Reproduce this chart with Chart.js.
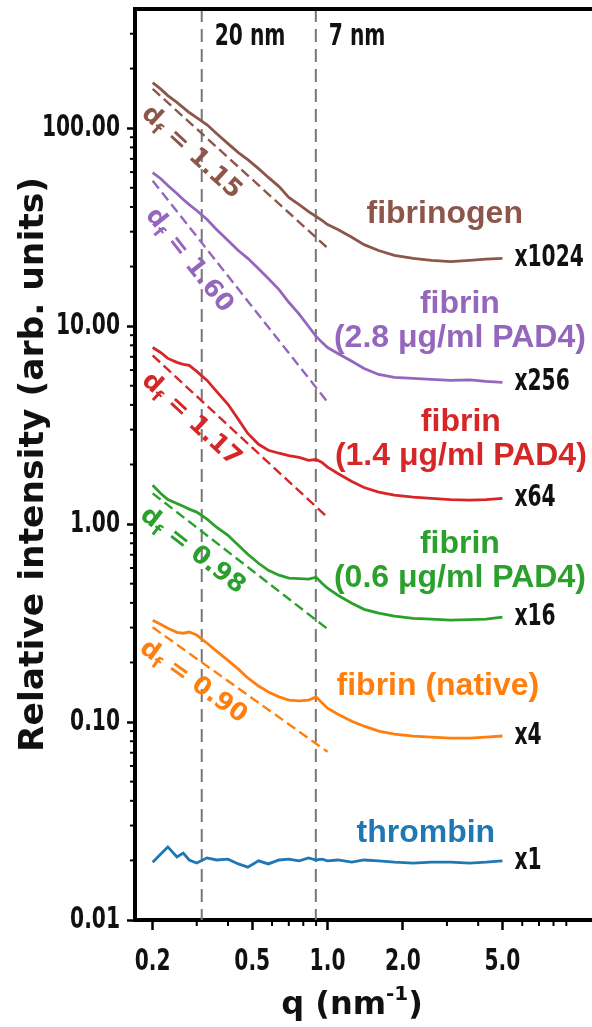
<!DOCTYPE html>
<html>
<head>
<meta charset="utf-8">
<script src="https://cdn.jsdelivr.net/npm/chart.js@4.4.1/dist/chart.umd.min.js"></script>
<style>
  html, body { margin: 0; padding: 0; background: #fff; overflow: hidden; }
</style>
</head>
<body>
<canvas id="saxs" width="592" height="1027"></canvas>
<script>
// scattering vector q (nm^-1), shared by every trace
const qValues = [0.2, 0.215, 0.23, 0.25, 0.265, 0.28, 0.3, 0.33, 0.36, 0.4, 0.44, 0.48, 0.53, 0.58, 0.64, 0.7,
  0.77, 0.84, 0.9, 0.95, 1.0, 1.1, 1.25, 1.4, 1.6, 1.85, 2.2, 2.6, 3.1, 3.7, 4.3, 5.0];

// intensities, already multiplied by the factor shown next to each trace
const fibrinogen = [170, 158, 146, 135, 127, 120, 113, 104, 94, 83.6, 75.3, 69.4, 62.5, 56.4, 50.7, 44.7,
  41.1, 37.9, 35.8, 34.2, 32.6, 30.8, 28.1, 25.8, 24.1, 22.8, 22.0, 21.5, 21.2, 21.5, 21.8, 22.0];
const fibrinPad28 = [59.7, 55.7, 51.3, 46.8, 43.6, 41.1, 38.4, 34.6, 30.8, 27.1, 24.1, 22.0, 19.5, 17.4, 15.3, 13.2,
  11.5, 9.96, 8.87, 8.28, 7.80, 7.28, 6.64, 6.11, 5.70, 5.51, 5.45, 5.38, 5.32, 5.35, 5.26, 5.20];
const fibrinPad14 = [7.80, 7.36, 6.87, 6.56, 6.41, 6.34, 5.91, 5.32, 4.68, 4.03, 3.38, 2.87, 2.53, 2.36, 2.28, 2.22,
  2.17, 2.10, 2.12, 2.05, 1.94, 1.80, 1.64, 1.53, 1.45, 1.40, 1.37, 1.35, 1.33, 1.32, 1.33, 1.35];
const fibrinPad06 = [1.57, 1.43, 1.33, 1.27, 1.23, 1.19, 1.15, 1.06, 0.964, 0.878, 0.782, 0.704, 0.634, 0.584, 0.552, 0.533,
  0.53, 0.527, 0.539, 0.503, 0.474, 0.437, 0.398, 0.371, 0.355, 0.343, 0.334, 0.331, 0.327, 0.329, 0.331, 0.339];
const fibrinNative = [0.327, 0.312, 0.298, 0.284, 0.281, 0.285, 0.275, 0.250, 0.228, 0.205, 0.185, 0.167, 0.152, 0.142, 0.134, 0.129,
  0.128, 0.129, 0.134, 0.125, 0.1175, 0.1096, 0.101, 0.0953, 0.0900, 0.0869, 0.0849, 0.0839, 0.0829, 0.083, 0.0839, 0.085];
const thrombin = [0.0196, 0.0215, 0.0234, 0.0208, 0.0218, 0.0201, 0.0194, 0.0206, 0.0201, 0.0203, 0.0192, 0.0185, 0.0199, 0.0192, 0.0201, 0.0203,
  0.0199, 0.0206, 0.0201, 0.0203, 0.0199, 0.0201, 0.0196, 0.0201, 0.0199, 0.0196, 0.0194, 0.0196, 0.0196, 0.0194, 0.0196, 0.0199];

// power-law fits: fractal dimension and intensity at the low-q end
const fractalDims = [1.15, 1.60, 1.17, 0.98, 0.90];
const fitStart = [158, 54.3, 7.11, 1.43, 0.301];
const fitQRange = [0.2, 1.0];

// characteristic sizes (nm), marked at q = 2*pi/d
const poreSizes = [20, 7];

const scaleFactors = ['x1024', 'x256', 'x64', 'x16', 'x4', 'x1'];
const seriesLabels = [
  ['fibrinogen'],
  ['fibrin', '(2.8 \u03bcg/ml PAD4)'],
  ['fibrin', '(1.4 \u03bcg/ml PAD4)'],
  ['fibrin', '(0.6 \u03bcg/ml PAD4)'],
  ['fibrin (native)'],
  ['thrombin']
];

const xTicks = [0.2, 0.5, 1, 2, 5];
const xMinorTicks = [0.3, 0.4, 0.6, 0.7, 0.8, 0.9, 3, 4, 6, 7, 8, 9];
const yTicks = [0.01, 0.1, 1, 10, 100];
const yMinorTicks = [0.02, 0.03, 0.04, 0.05, 0.06, 0.07, 0.08, 0.09, 0.2, 0.3, 0.4, 0.5, 0.6, 0.7, 0.8, 0.9,
  2, 3, 4, 5, 6, 7, 8, 9, 20, 30, 40, 50, 60, 70, 80, 90, 200, 300];

// where the trace names sit, in data coordinates (q, intensity)
const labelAnchors = [[2.94, 36.6], [3.38, 10.56], [3.41, 2.68], [3.38, 0.649], [2.76, 0.152], [2.47, 0.0275]];

const colors = ['#8c564b', '#9467bd', '#d62728', '#2ca02c', '#ff7f0e', '#1f77b4'];
const narrowFont = 'bold 30px "DejaVu Sans Condensed", "DejaVu Sans", sans-serif';

const traces = [fibrinogen, fibrinPad28, fibrinPad14, fibrinPad06, fibrinNative, thrombin];
const datasets = traces.map((vals, i) => ({
  data: qValues.map((q, k) => ({ x: q, y: vals[k] })),
  borderColor: colors[i],
  borderWidth: 2.8,
  pointRadius: 0,
  tension: 0
}));
fractalDims.forEach((df, i) => {
  const [q0, q1] = fitQRange;
  datasets.push({
    data: [{ x: q0, y: fitStart[i] }, { x: q1, y: fitStart[i] * Math.pow(q1 / q0, -df) }],
    borderColor: colors[i],
    borderWidth: 2.4,
    borderDash: [10, 5],
    pointRadius: 0
  });
});

// squeezed bold text for tick numbers and small labels
function narrowText(ctx, text, px, py, align) {
  ctx.save();
  ctx.translate(px, py);
  ctx.scale(0.75, 1);
  ctx.font = narrowFont;
  ctx.textAlign = align;
  ctx.textBaseline = 'middle';
  ctx.fillText(text, 0, 0);
  ctx.restore();
}

const decor = {
  id: 'decor',
  beforeDatasetsDraw(chart) {
    const { ctx, chartArea: a, scales: { x } } = chart;
    ctx.save();
    ctx.strokeStyle = '#777';
    ctx.lineWidth = 2;
    ctx.setLineDash([13, 7]);
    poreSizes.forEach(d => {
      const px = x.getPixelForValue(2 * Math.PI / d);
      ctx.beginPath();
      ctx.moveTo(px, a.top);
      ctx.lineTo(px, a.bottom);
      ctx.stroke();
    });
    ctx.restore();
  },
  afterDraw(chart) {
    const { ctx, chartArea: a, scales: { x, y } } = chart;
    ctx.save();

    // top edge of the frame
    ctx.strokeStyle = '#000';
    ctx.lineWidth = 4;
    ctx.beginPath();
    ctx.moveTo(a.left - 2, a.top);
    ctx.lineTo(chart.width, a.top);
    ctx.stroke();

    // minor ticks
    ctx.lineWidth = 2;
    xMinorTicks.forEach(v => {
      const px = x.getPixelForValue(v);
      ctx.beginPath(); ctx.moveTo(px, a.bottom); ctx.lineTo(px, a.bottom + 6); ctx.stroke();
    });
    yMinorTicks.forEach(v => {
      const py = y.getPixelForValue(v);
      ctx.beginPath(); ctx.moveTo(a.left, py); ctx.lineTo(a.left - 5, py); ctx.stroke();
    });

    // tick numbers
    ctx.fillStyle = '#111';
    yTicks.forEach(v => narrowText(ctx, v.toFixed(2), a.left - 15, y.getPixelForValue(v), 'right'));
    xTicks.forEach(v => narrowText(ctx, v.toFixed(1), x.getPixelForValue(v), a.bottom + 42, 'center'));

    // size markers
    poreSizes.forEach(d => {
      narrowText(ctx, d + ' nm', x.getPixelForValue(2 * Math.PI / d) + 13, a.top + 28, 'left');
    });

    // multiplication factors at the end of each trace
    traces.forEach((vals, i) => {
      const n = vals.length - 1;
      narrowText(ctx, scaleFactors[i], x.getPixelForValue(qValues[n]) + 12, y.getPixelForValue(vals[n]), 'left');
    });

    // trace names
    ctx.textAlign = 'center';
    ctx.textBaseline = 'middle';
    ctx.font = 'bold 32px "Liberation Sans", Arial, sans-serif';
    seriesLabels.forEach((lines, i) => {
      const cx = x.getPixelForValue(labelAnchors[i][0]);
      const cy = y.getPixelForValue(labelAnchors[i][1]);
      ctx.fillStyle = colors[i];
      lines.forEach((t, k) => ctx.fillText(t, cx, cy + (k - (lines.length - 1) / 2) * 34));
    });

    // d_f annotations along the fits
    const [q0, q1] = fitQRange;
    fractalDims.forEach((df, i) => {
      const x0 = x.getPixelForValue(q0), y0 = y.getPixelForValue(fitStart[i]);
      const x1 = x.getPixelForValue(q1), y1 = y.getPixelForValue(fitStart[i] * Math.pow(q1 / q0, -df));
      const qa = 0.325;
      const px = x.getPixelForValue(qa), py = y.getPixelForValue(fitStart[i] * Math.pow(qa / q0, -df));
      ctx.save();
      ctx.translate(px, py);
      ctx.rotate(Math.atan2(y1 - y0, x1 - x0));
      ctx.fillStyle = colors[i];
      ctx.textAlign = 'left';
      ctx.textBaseline = 'middle';
      const big = 'bold 25px "DejaVu Sans", sans-serif';
      const small = 'bold 17px "DejaVu Sans", sans-serif';
      const rest = ' = ' + df.toFixed(2);
      ctx.font = big; const wd = ctx.measureText('d').width; const wr = ctx.measureText(rest).width;
      ctx.font = small; const wf = ctx.measureText('f').width;
      let tx = -(wd + wf + wr) / 2;
      const ty = 21;
      ctx.font = big; ctx.fillText('d', tx, ty); tx += wd;
      ctx.font = small; ctx.fillText('f', tx, ty + 7); tx += wf;
      ctx.font = big; ctx.fillText(rest, tx, ty);
      ctx.restore();
    });

    // x-axis title with superscript
    ctx.fillStyle = '#111';
    ctx.textAlign = 'left';
    ctx.textBaseline = 'alphabetic';
    const tBig = 'bold 32px "DejaVu Sans", sans-serif';
    const tSup = 'bold 20px "DejaVu Sans", sans-serif';
    ctx.font = tBig; const w1 = ctx.measureText('q (nm').width; const w3 = ctx.measureText(')').width;
    ctx.font = tSup; const w2 = ctx.measureText('-1').width;
    let sx = a.left + (a.right - a.left) * 0.475 - (w1 + w2 + w3) / 2;
    const base = a.bottom + 94;
    ctx.font = tBig; ctx.fillText('q (nm', sx, base); sx += w1;
    ctx.font = tSup; ctx.fillText('-1', sx, base - 14); sx += w2;
    ctx.font = tBig; ctx.fillText(')', sx, base);

    ctx.restore();
  }
};

new Chart(document.getElementById('saxs'), {
  type: 'line',
  data: { datasets },
  plugins: [decor],
  options: {
    responsive: false,
    animation: false,
    devicePixelRatio: 1,
    layout: { padding: { top: 9, left: 0, right: 0, bottom: 0 } },
    plugins: { legend: { display: false }, tooltip: { enabled: false } },
    scales: {
      x: {
        type: 'logarithmic',
        min: 0.17,
        max: 11.4,
        afterFit: s => { s.height = 107; s.paddingLeft = 0; s.paddingRight = 0; },
        afterBuildTicks: s => { s.ticks = xTicks.map(v => ({ value: v })); },
        border: { display: true, color: '#000', width: 4 },
        grid: { drawOnChartArea: false, drawTicks: true, tickLength: 10, tickWidth: 2.5, tickColor: '#000' },
        ticks: { display: false, autoSkip: false, maxRotation: 0 }
      },
      y: {
        type: 'logarithmic',
        min: 0.01,
        max: 400,
        afterFit: s => { s.width = 135; s.paddingTop = 0; s.paddingBottom = 0; },
        afterBuildTicks: s => { s.ticks = yTicks.map(v => ({ value: v })); },
        border: { display: true, color: '#000', width: 4 },
        grid: { drawOnChartArea: false, drawTicks: true, tickLength: 8, tickWidth: 2.5, tickColor: '#000' },
        ticks: { display: false, autoSkip: false },
        title: {
          display: true,
          text: 'Relative intensity (arb. units)',
          color: '#111',
          padding: { top: 13, bottom: 0 },
          font: { family: '"DejaVu Sans", sans-serif', size: 34.5, weight: 'bold' }
        }
      }
    }
  }
});
</script>
</body>
</html>
